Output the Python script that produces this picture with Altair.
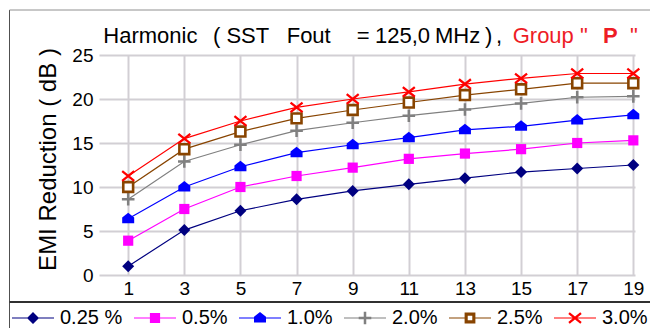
import altair as alt
import pandas as pd

# ---------------- data ----------------
harmonics = [1, 3, 5, 7, 9, 11, 13, 15, 17, 19]
series_names = ["0.25 %", "0.5%", "1.0%", "2.0%", "2.5%", "3.0%"]
s_025 = [1.0, 5.1, 7.3, 8.6, 9.55, 10.3, 11.0, 11.7, 12.1, 12.5]
s_05 = [3.9, 7.5, 10.0, 11.25, 12.2, 13.2, 13.8, 14.3, 15.0, 15.3]
s_10 = [6.4, 10.0, 12.3, 13.9, 14.8, 15.6, 16.5, 16.9, 17.6, 18.2]
s_20 = [8.6, 12.9, 14.8, 16.4, 17.3, 18.1, 18.8, 19.5, 20.2, 20.3]
s_25 = [10.0, 14.3, 16.3, 17.8, 18.75, 19.6, 20.45, 21.1, 21.8, 21.8]
s_30 = [11.25, 15.5, 17.5, 19.05, 20.0, 20.8, 21.7, 22.35, 22.9, 22.9]
y_ticks = [0, 5, 10, 15, 20, 25]

all_series = [s_025, s_05, s_10, s_20, s_25, s_30]
colors = ["#000080", "#ff00ff", "#0000ff", "#808080", "#884400", "#ff0000"]

rows = []
for name, vals in zip(series_names, all_series):
    for h, v in zip(harmonics, vals):
        rows.append({"harmonic": h, "value": v, "series": name})
df = pd.DataFrame(rows)

FONT = "Liberation Sans"

# ---------------- symbol geometry helpers ----------------
def poly(points, reverse=False):
    area = 0.0
    n = len(points)
    for i in range(n):
        x1, y1 = points[i]
        x2, y2 = points[(i + 1) % n]
        area += x1 * y2 - x2 * y1
    pts = list(points)
    if area < 0:
        pts = pts[::-1]
    if reverse:
        pts = pts[::-1]
    return "M" + "L".join(f"{x:.3f},{y:.3f}" for x, y in pts) + "Z"


def rect(x0, y0, x1, y1, reverse=False):
    return poly([(x0, y0), (x1, y0), (x1, y1), (x0, y1)], reverse)


def arm(ax, ay, bx, by, h):
    dx, dy = bx - ax, by - ay
    ln = (dx * dx + dy * dy) ** 0.5
    nx, ny = -dy / ln * h, dx / ln * h
    return poly([(ax + nx, ay + ny), (bx + nx, by + ny), (bx - nx, by - ny), (ax - nx, ay - ny)])


diamond = poly([(0, -1), (1, 0), (0, 1), (-1, 0)])
square = rect(-0.85, -0.85, 0.85, 0.85)
house = poly([(0, -1.0), (1.0, -0.2), (1.0, 0.75), (-1.0, 0.75), (-1.0, -0.2)])
plus = rect(-1.05, -0.21, 1.05, 0.21) + rect(-0.21, -1.05, 0.21, 1.05)
xmark = arm(-1, -0.8, 1, 0.8, 0.19) + arm(-1, 0.8, 1, -0.8, 0.19)
ring = rect(-0.9, -0.9, 0.9, 0.9) + rect(-0.38, -0.38, 0.38, 0.38, reverse=True)
plot_markers = [diamond, square, house, plus, "M-0.82,-0.82L0.82,-0.82L0.82,0.82L-0.82,0.82Z", xmark]

L, T = 3.5, 0.09
full_line = rect(-L, -T, L, T)
split_line = rect(-L, -T, -0.9, T) + rect(0.9, -T, L, T)
legend_shapes = [
    full_line + diamond,
    full_line + square,
    full_line + house,
    full_line + plus,
    split_line + ring,
    full_line + xmark,
]

# ---------------- scales ----------------
x_scale = alt.Scale(domain=[-0.04, 19.06], nice=False, zero=False)
y_scale = alt.Scale(domain=[0, 25], nice=False)

x_axis = alt.Axis(values=harmonics, grid=True, gridColor="#d2cfd4", gridWidth=2,
                  domain=False, ticks=False, tickSize=0, labelFontSize=19, labelFont=FONT,
                  labelColor="black", labelPadding=4, labelFlush=False, labelOverlap=False,
                  title=None)
y_axis = alt.Axis(values=y_ticks, grid=True, gridColor="#d2cfd4", gridWidth=2,
                  domain=False, ticks=False, tickSize=0, labelFontSize=19, labelFont=FONT,
                  labelColor="black", labelPadding=6, title="EMI Reduction ( dB )",
                  titleFont=FONT, titleFontSize=24, titleFontWeight="normal",
                  titleColor="black", titleAngle=270, titleX=-43.5, titleY=104,
                  titleAlign="center", titleBaseline="alphabetic")

base = alt.Chart(df)

layers = []
# axes carrier (grid + labels)
layers.append(
    base.mark_point(opacity=0).encode(
        x=alt.X("harmonic:Q", scale=x_scale, axis=x_axis),
        y=alt.Y("value:Q", scale=y_scale, axis=y_axis),
    )
)

for i, name in enumerate(series_names):
    sub = base.transform_filter(alt.datum.series == name)
    layers.append(
        sub.mark_line(color=colors[i], strokeWidth=1.2).encode(
            x=alt.X("harmonic:Q", scale=x_scale),
            y=alt.Y("value:Q", scale=y_scale),
        )
    )

for i, name in enumerate(series_names):
    sub = base.transform_filter(alt.datum.series == name)
    if i == 4:
        mk = sub.mark_point(shape=plot_markers[i], size=144, filled=False,
                            fill="white", fillOpacity=1, stroke=colors[i],
                            strokeWidth=2.6, opacity=1)
    else:
        mk = sub.mark_point(shape=plot_markers[i], size=144, filled=True,
                            fill=colors[i], fillOpacity=1, strokeWidth=0, opacity=1)
    layers.append(
        mk.encode(
            x=alt.X("harmonic:Q", scale=x_scale),
            y=alt.Y("value:Q", scale=y_scale),
        )
    )

# legend carrier (no visible marks)
legend = alt.Legend(orient="none", legendX=-76, legendY=253, direction="horizontal",
                    columns=6, columnPadding=11, labelOffset=17, symbolSize=144,
                    symbolStrokeWidth=0, symbolOpacity=1, labelFontSize=20, labelFont=FONT,
                    labelColor="black", labelBaseline="middle", padding=0, title=None,
                    rowPadding=0)
layers.append(
    base.transform_filter(alt.datum.value < -100).mark_point(filled=True, size=144, opacity=1).encode(
        fill=alt.Fill("series:N", scale=alt.Scale(domain=series_names, range=colors),
                      legend=legend),
        shape=alt.Shape("series:N", scale=alt.Scale(domain=series_names, range=legend_shapes),
                        legend=legend),
    )
)

# title pieces
one = pd.DataFrame({"k": [0]})


def piece(text, x, y, size, color="black", weight="normal"):
    return alt.Chart(one).mark_text(
        text=text, font=FONT, fontSize=size, color=color, fontWeight=weight,
        align="left", baseline="alphabetic"
    ).encode(x=alt.value(x), y=alt.value(y))


title_y = -12
red = "#ee1c25"
layers += [
    piece("Harmonic", 4.3, title_y, 22),
    piece("( SST", 114, title_y, 22),
    piece("Fout", 187.7, title_y, 22),
    piece("=", 257.7, title_y, 22),
    piece("125,0", 276, title_y, 22),
    piece("MHz", 336, title_y, 22),
    piece(")", 386, title_y, 22),
    piece(",", 397, title_y, 22),
    piece('Group "', 413.7, title_y, 22, color=red),
    piece("P", 504, title_y, 22, color=red, weight="bold"),
    piece('"', 531, title_y, 22, color=red),
]

# frame lines
def frame(x, x2, y, y2, color, width):
    return alt.Chart(one).mark_rule(color=color, strokeWidth=width).encode(
        x=alt.value(x), x2=alt.value(x2), y=alt.value(y), y2=alt.value(y2)
    )


layers += [
    frame(-89.5, -89.5, -45, 273, "#505050", 1),
    frame(-89.5, 551, -45, -45, "#909090", 1),
    frame(-89.5, 551, 247, 247, "#303030", 2),
]

chart = alt.layer(*layers).properties(
    width=536, height=220,
    autosize=alt.AutoSizeParams(type="none"),
    padding={"left": 91, "top": 47, "right": 15, "bottom": 53},
    background="white",
).configure_view(stroke=None)

chart.save("out.html", embed_options={"renderer": "svg", "actions": False})
